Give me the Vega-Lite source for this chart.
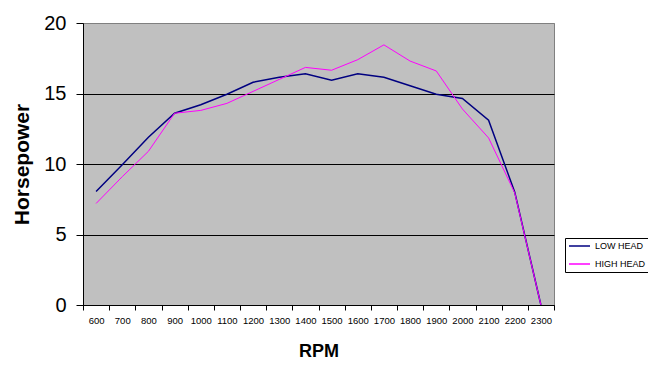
{
  "$schema": "https://vega.github.io/schema/vega-lite/v6.json",
  "autosize": {"type": "none"},
  "padding": {"left": 83, "top": 23, "right": 94, "bottom": 65},
  "width": 471,
  "height": 282,
  "background": "white",
  "data": {"values": [
    {"rpm": 600, "series": "LOW HEAD", "hp": 8.05},
    {"rpm": 700, "series": "LOW HEAD", "hp": 9.95},
    {"rpm": 800, "series": "LOW HEAD", "hp": 11.9},
    {"rpm": 900, "series": "LOW HEAD", "hp": 13.6},
    {"rpm": 1000, "series": "LOW HEAD", "hp": 14.2},
    {"rpm": 1100, "series": "LOW HEAD", "hp": 14.95},
    {"rpm": 1200, "series": "LOW HEAD", "hp": 15.8},
    {"rpm": 1300, "series": "LOW HEAD", "hp": 16.15},
    {"rpm": 1400, "series": "LOW HEAD", "hp": 16.4},
    {"rpm": 1500, "series": "LOW HEAD", "hp": 15.95},
    {"rpm": 1600, "series": "LOW HEAD", "hp": 16.4},
    {"rpm": 1700, "series": "LOW HEAD", "hp": 16.15},
    {"rpm": 1800, "series": "LOW HEAD", "hp": 15.55},
    {"rpm": 1900, "series": "LOW HEAD", "hp": 14.95},
    {"rpm": 2000, "series": "LOW HEAD", "hp": 14.65},
    {"rpm": 2100, "series": "LOW HEAD", "hp": 13.1},
    {"rpm": 2200, "series": "LOW HEAD", "hp": 8.0},
    {"rpm": 2300, "series": "LOW HEAD", "hp": 0},
    {"rpm": 600, "series": "HIGH HEAD", "hp": 7.2},
    {"rpm": 700, "series": "HIGH HEAD", "hp": 9.1},
    {"rpm": 800, "series": "HIGH HEAD", "hp": 10.9},
    {"rpm": 900, "series": "HIGH HEAD", "hp": 13.6},
    {"rpm": 1000, "series": "HIGH HEAD", "hp": 13.8},
    {"rpm": 1100, "series": "HIGH HEAD", "hp": 14.3},
    {"rpm": 1200, "series": "HIGH HEAD", "hp": 15.15},
    {"rpm": 1300, "series": "HIGH HEAD", "hp": 16.0},
    {"rpm": 1400, "series": "HIGH HEAD", "hp": 16.85},
    {"rpm": 1500, "series": "HIGH HEAD", "hp": 16.65},
    {"rpm": 1600, "series": "HIGH HEAD", "hp": 17.4},
    {"rpm": 1700, "series": "HIGH HEAD", "hp": 18.45},
    {"rpm": 1800, "series": "HIGH HEAD", "hp": 17.3},
    {"rpm": 1900, "series": "HIGH HEAD", "hp": 16.6},
    {"rpm": 2000, "series": "HIGH HEAD", "hp": 13.9},
    {"rpm": 2100, "series": "HIGH HEAD", "hp": 11.85},
    {"rpm": 2200, "series": "HIGH HEAD", "hp": 7.95},
    {"rpm": 2300, "series": "HIGH HEAD", "hp": 0}
  ]},
  "encoding": {
    "x": {
      "field": "rpm",
      "type": "ordinal",
      "bandPosition": 0.5,
      "scale": {"type": "band", "paddingInner": 0, "paddingOuter": 0},
      "axis": {
        "title": "RPM",
        "labelAngle": 0,
        "tickBand": "extent",
        "grid": false,
        "domainColor": "black",
        "tickColor": "black",
        "tickSize": 5,
        "labelFont": "'Liberation Sans Narrow', 'Liberation Sans'",
        "labelFontSize": 9.5,
        "labelColor": "black",
        "labelPadding": 5,
        "titleFont": "Liberation Sans",
        "titleFontSize": 18,
        "titleFontWeight": "bold",
        "titleColor": "black",
        "titleX": 235.5,
        "titleY": 51,
        "titleBaseline": "alphabetic"
      }
    },
    "y": {
      "field": "hp",
      "type": "quantitative",
      "scale": {"domain": [0, 20], "nice": false},
      "axis": {
        "title": "Horsepower",
        "values": [0, 5, 10, 15, 20],
        "grid": true,
        "gridColor": {"condition": {"test": "datum.value == 20", "value": "#808080"}, "value": "black"},
        "gridWidth": 1,
        "domainColor": "black",
        "tickColor": "black",
        "tickSize": 7,
        "labelFont": "Liberation Sans",
        "labelFontSize": 20,
        "labelColor": "black",
        "labelPadding": 10,
        "titleFont": "Liberation Sans",
        "titleFontSize": 21,
        "titleFontWeight": "bold",
        "titleColor": "black",
        "titleX": -61,
        "titleY": 141,
        "titleAngle": -90,
        "titleAlign": "center",
        "titleBaseline": "middle"
      }
    },
    "color": {
      "field": "series",
      "type": "nominal",
      "scale": {"domain": ["LOW HEAD", "HIGH HEAD"], "range": ["#000080", "#FF00FF"]},
      "legend": {
        "title": null,
        "orient": "none",
        "legendX": 482,
        "legendY": 215,
        "direction": "vertical",
        "fillColor": "white",
        "strokeColor": "black",
        "padding": 3,
        "rowPadding": 8,
        "clipHeight": 10,
        "symbolType": "stroke",
        "symbolSize": 441,
        "symbolStrokeWidth": 1.5,
        "labelFont": "Liberation Sans",
        "labelFontSize": 9,
        "labelColor": "black",
        "labelOffset": 4
      }
    }
  },
  "layer": [
    {
      "transform": [{"filter": "datum.series == 'LOW HEAD'"}],
      "mark": {"type": "line", "strokeWidth": 1.5}
    },
    {
      "transform": [{"filter": "datum.series == 'HIGH HEAD'"}],
      "mark": {"type": "line", "strokeWidth": 1}
    }
  ],
  "config": {
    "view": {"fill": "#C0C0C0", "stroke": "#808080", "strokeWidth": 1}
  }
}
